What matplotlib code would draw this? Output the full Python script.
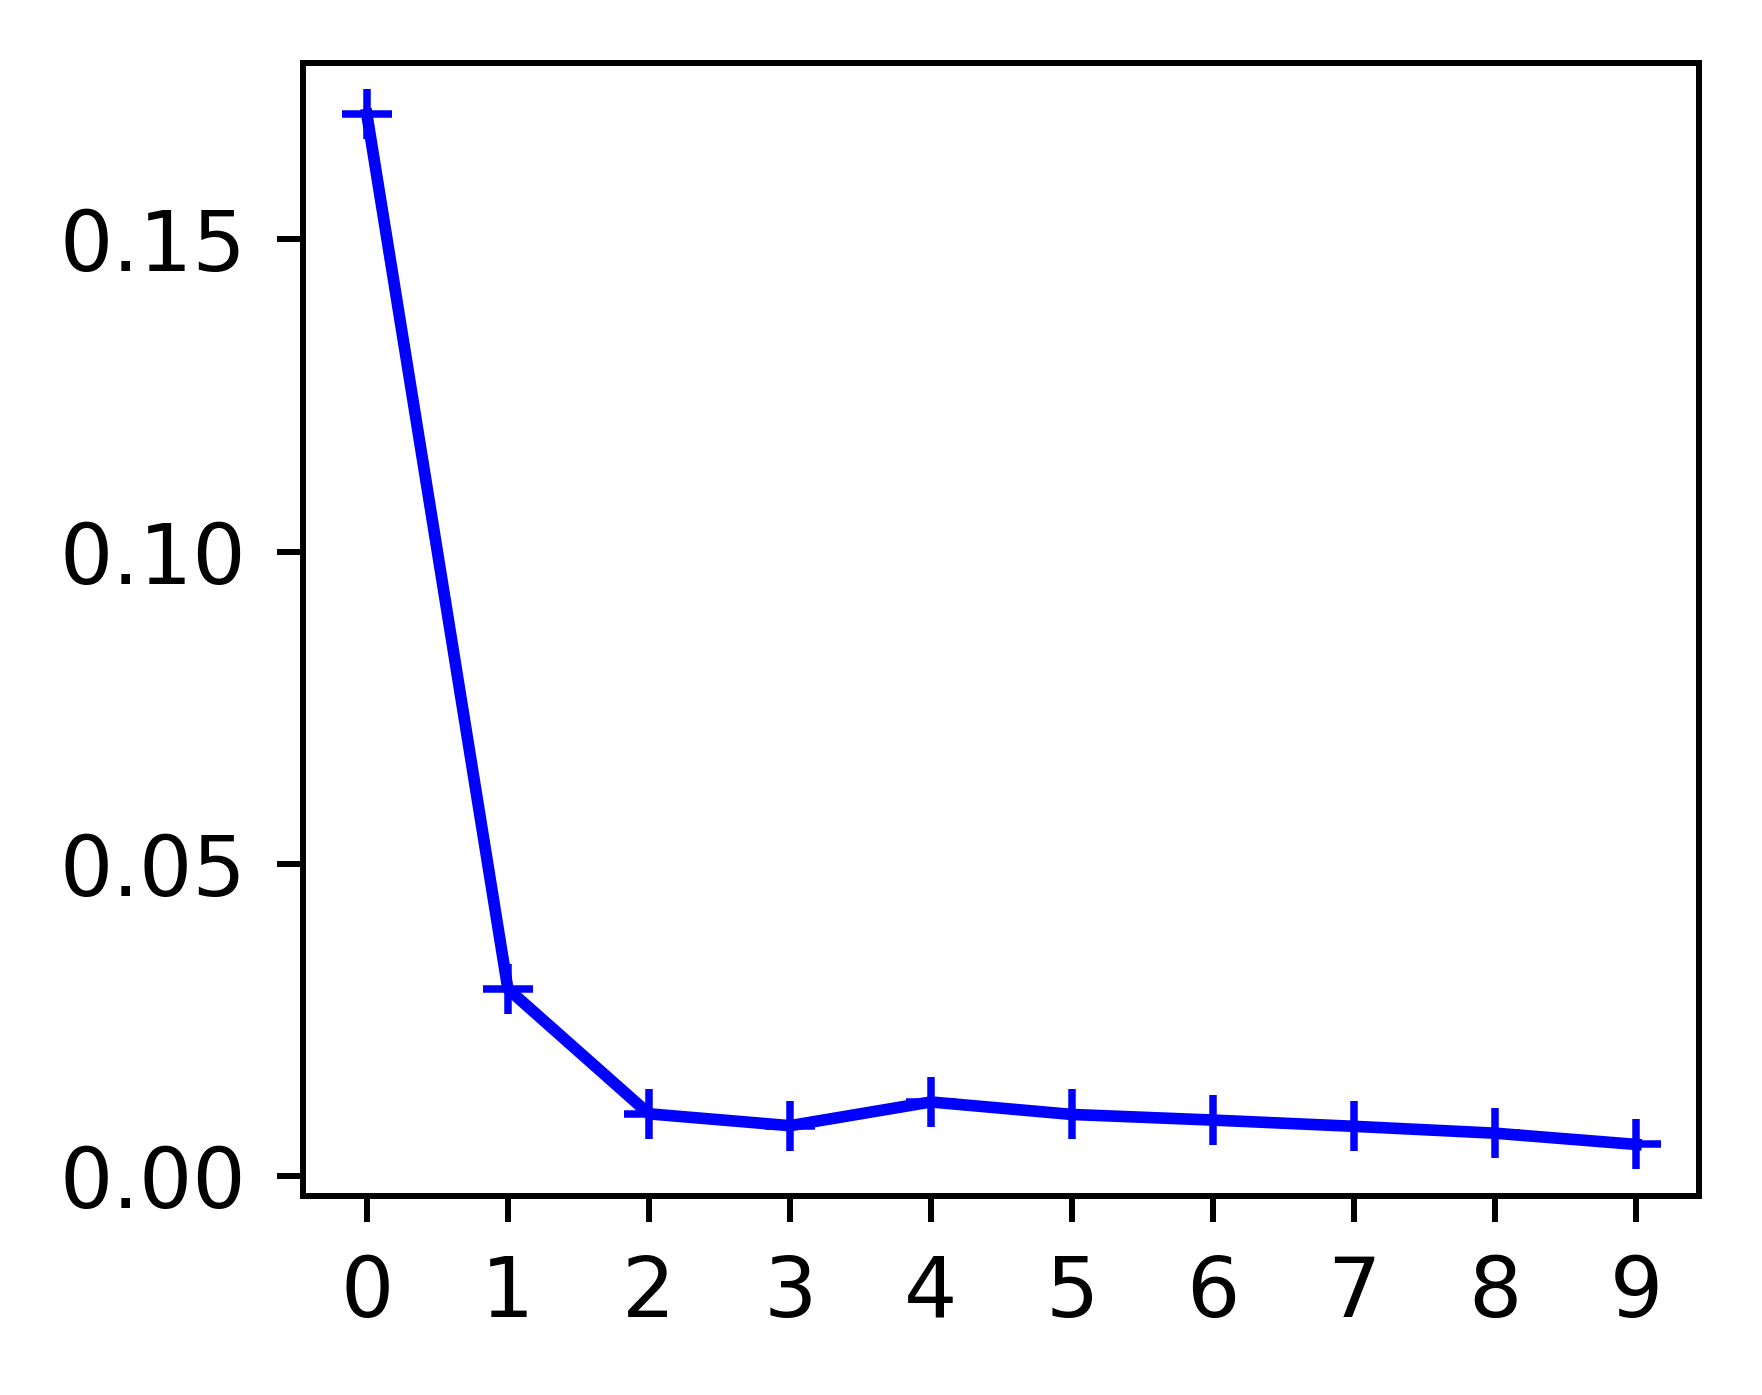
import matplotlib
matplotlib.use("Agg")
import matplotlib.pyplot as plt

x_vals = [0, 1, 2, 3, 4, 5, 6, 7, 8, 9]
y_vals = [0.170, 0.030, 0.0100, 0.0081, 0.0119, 0.0099, 0.0090, 0.0080, 0.0069, 0.0051]
x_ticks = [0, 1, 2, 3, 4, 5, 6, 7, 8, 9]
y_ticks = [0.00, 0.05, 0.10, 0.15]

DPI = 540
fig = plt.figure(figsize=(1762 / DPI, 1395 / DPI), dpi=DPI)
ax = fig.add_axes([0.1722, 0.1427, 0.7923, 0.8122])
ax.plot(x_vals, y_vals, color="b", marker="+", linewidth=1.55, markersize=6.7)
ax.set_xticks(x_ticks)
ax.set_yticks(y_ticks)
ax.tick_params(labelsize=11.2, pad=4.1)
fig.savefig("out.png", dpi=DPI)
